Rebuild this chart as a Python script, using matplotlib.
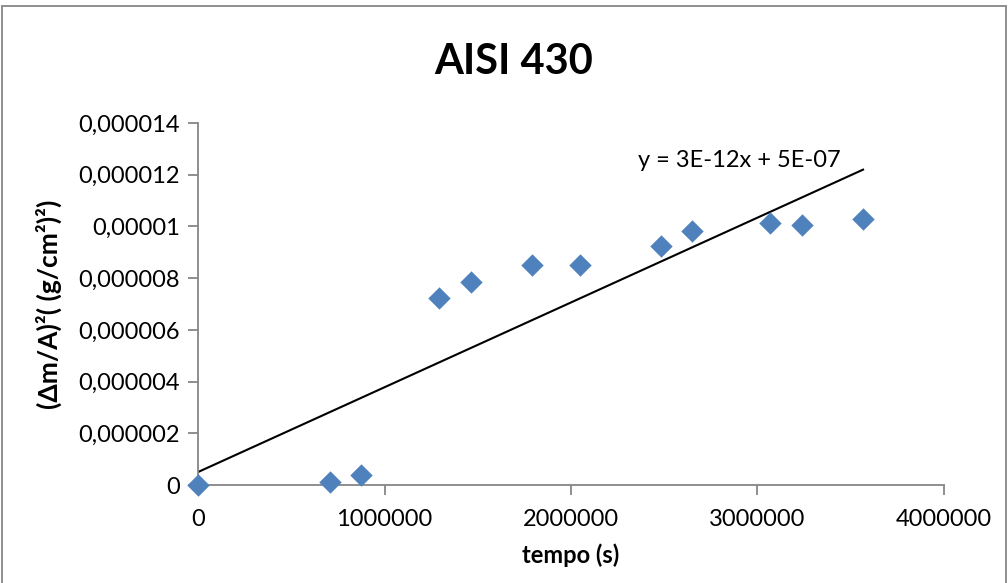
import matplotlib
matplotlib.use("Agg")
import matplotlib.pyplot as plt
from matplotlib.patches import Rectangle
import numpy as np

# Data
tempo_s = [0, 708000, 874000, 1292000, 1464000, 1791000, 2048000, 2483000, 2649000, 3067000, 3239000, 3566000]
dm_a2 = [0.0, 0.12e-6, 0.39e-6, 7.23e-6, 7.85e-6, 8.51e-6, 8.51e-6, 9.24e-6, 9.82e-6, 10.13e-6, 10.05e-6, 10.29e-6]
y_ticks = [0, 0.000002, 0.000004, 0.000006, 0.000008, 0.00001, 0.000012, 0.000014]
y_tick_labels = ["0", "0,000002", "0,000004", "0,000006", "0,000008", "0,00001", "0,000012", "0,000014"]
x_ticks = [0, 1000000, 2000000, 3000000, 4000000]
x_tick_labels = ["0", "1000000", "2000000", "3000000", "4000000"]
trend_slope = 3.28e-12
trend_intercept = 5e-7
title = "AISI 430"
equation = "y = 3E-12x + 5E-07"

plt.rcParams['font.family'] = ['Lato', 'DejaVu Sans']

fig = plt.figure(figsize=(10.08, 5.83), dpi=100)
ax = fig.add_axes([198/1008, 1-485/583, (944-198)/1008, (485-123)/583])

ax.scatter(tempo_s, dm_a2, marker='D', s=130, color='#4F81BD', zorder=3, clip_on=False, linewidths=0)

xs = np.array([0, tempo_s[-1]])
ax.plot(xs, trend_slope*xs + trend_intercept, color='black', lw=1.5, zorder=2)

ax.set_xlim(0, 4000000)
ax.set_ylim(0, 0.000014)
ax.set_xticks(x_ticks)
ax.set_xticklabels(x_tick_labels)
ax.set_yticks(y_ticks)
ax.set_yticklabels(y_tick_labels)

for s in ['top', 'right']:
    ax.spines[s].set_visible(False)
for s in ['left', 'bottom']:
    ax.spines[s].set_color('#868686')
    ax.spines[s].set_linewidth(1.3)
ax.tick_params(axis='both', direction='out', length=7, width=1.3, color='#868686', labelsize=17)
ax.tick_params(axis='x', pad=10)
ax.tick_params(axis='y', pad=6)

ax.set_xlabel("tempo (s)", fontsize=17, fontweight='bold', labelpad=10)
ax.set_ylabel("(Δm/A)²( (g/cm²)²)", fontsize=19, fontweight='bold', labelpad=12)
fig.text(514/1008, 1-62/583, title, fontsize=30, fontweight='bold', ha='center', va='center')
ax.text(2900000, 12.55e-6, equation, fontsize=17, ha='center', va='center')

fig.patches.append(Rectangle((2/1008, -0.01), 1004/1008, 1.0, transform=fig.transFigure,
                             fill=False, edgecolor='#868686', lw=1.3))

fig.savefig("out.png", dpi=100)
